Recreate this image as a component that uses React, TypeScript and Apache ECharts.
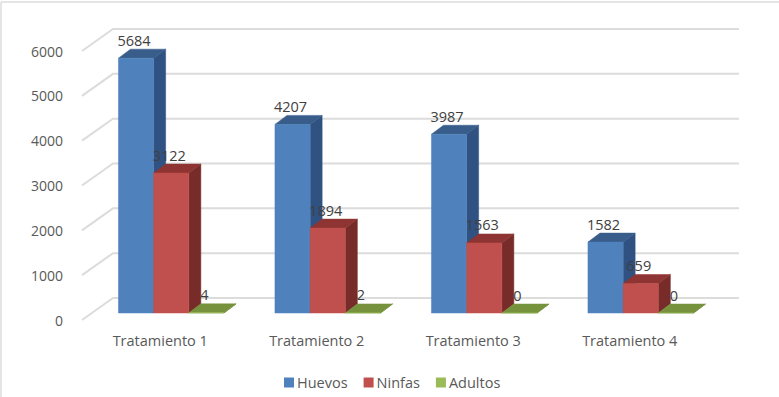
import React, { useEffect, useRef } from "react";
import * as echarts from "echarts";

const categories = ["Tratamiento 1", "Tratamiento 2", "Tratamiento 3", "Tratamiento 4"];
const huevos = [5684, 4207, 3987, 1582];
const ninfas = [3122, 1894, 1563, 659];
const adultos = [4, 2, 0, 0];
const yTicks = [0, 1000, 2000, 3000, 4000, 5000, 6000];

const FONT = "'Open Sans', sans-serif";
const FONT_SIZE = 14.5;
const BAR_RATIO = 35.2 / 156.5;
const PLANE_DX = 11; // bars stand part-way into the floor
const PLANE_DY = 7;
const DEPTH_DX = 12;
const DEPTH_DY = 9;
const WALL_DX = 31;
const WALL_DY = 22;

function barRenderer(slot: number, front: string, top: string, side: string) {
  return (params: any, api: any) => {
    const cat = api.value(0);
    const val = api.value(1);
    const [cx, y1] = api.coord([cat, val]);
    const [, y0] = api.coord([cat, 0]);
    const w = api.size([1, 0])[0] * BAR_RATIO;
    const xl = cx + PLANE_DX + slot * w - w / 2;
    const xr = xl + w;
    const yb = y0 - PLANE_DY;
    const yt = y1 - PLANE_DY;
    const poly = (points: number[][], fill: string) => ({
      type: "polygon",
      shape: { points },
      style: { fill, stroke: fill, lineWidth: 0.5 },
    });
    return {
      type: "group",
      children: [
        poly([[xr, yb], [xr + DEPTH_DX, yb - DEPTH_DY], [xr + DEPTH_DX, yt - DEPTH_DY], [xr, yt]], side),
        poly([[xl, yt], [xr, yt], [xr + DEPTH_DX, yt - DEPTH_DY], [xl + DEPTH_DX, yt - DEPTH_DY]], top),
        poly([[xl, yb], [xr, yb], [xr, yt], [xl, yt]], front),
        {
          type: "text",
          x: (xl + xr) / 2 - 2,
          y: yt - 18,
          style: {
            text: String(val),
            fill: "#404040",
            font: `${FONT_SIZE}px ${FONT}`,
            align: "center",
            verticalAlign: "middle",
          },
        },
      ],
    };
  };
}

function gridRenderer(params: any, api: any) {
  const [, y] = api.coord([0, api.value(1)]);
  const g = params.coordSys;
  return {
    type: "polyline",
    shape: {
      points: [
        [g.x, y],
        [g.x + WALL_DX, y - WALL_DY],
        [g.x + g.width + WALL_DX, y - WALL_DY],
      ],
    },
    style: { fill: "none", stroke: "#dcdcdc", lineWidth: 2 },
  };
}

function toData(values: number[]) {
  return values.map((v, i) => [i, v]);
}

export default function App() {
  const ref = useRef<HTMLDivElement>(null);
  useEffect(() => {
    document.body.style.margin = "0";
    document.body.style.background = "#fff";
    const chart = echarts.init(ref.current!, undefined, { renderer: "svg" });
    chart.setOption({
      animation: false,
      backgroundColor: "#fff",
      grid: { left: 82, right: 71, top: 51, bottom: 77 },
      xAxis: {
        type: "category",
        data: categories,
        axisLine: { show: false },
        axisTick: { show: false },
        axisLabel: { color: "#595959", fontSize: FONT_SIZE, fontFamily: FONT, margin: 13, interval: 0 },
      },
      yAxis: {
        type: "value",
        min: 0,
        max: 6000,
        interval: 1000,
        axisLine: { show: false },
        axisTick: { show: false },
        splitLine: { show: false },
        axisLabel: {
          color: "#595959",
          fontSize: 14,
          fontFamily: FONT,
          margin: 19,
          formatter: (v: number) => String(v),
        },
      },
      legend: {
        data: [
          { name: "Huevos", icon: "rect" },
          { name: "Ninfas", icon: "rect" },
          { name: "Adultos", icon: "rect" },
        ],
        left: 279,
        top: 370,
        itemWidth: 10,
        itemHeight: 10,
        itemGap: 16,
        textStyle: { color: "#595959", fontSize: FONT_SIZE, fontFamily: FONT, padding: [0, 0, 0, -2] },
      },
      graphic: [
        { type: "line", shape: { x1: 1, y1: 2, x2: 779, y2: 2 }, style: { stroke: "#dcdcdc", lineWidth: 1.5 } },
        { type: "line", shape: { x1: 1, y1: 2, x2: 1, y2: 397 }, style: { stroke: "#dcdcdc", lineWidth: 1.5 } },
      ],
      series: [
        {
          type: "custom",
          name: "Rejilla",
          silent: true,
          clip: false,
          renderItem: gridRenderer,
          data: yTicks.map((v) => [0, v]),
        },
        {
          type: "custom",
          name: "Huevos",
          clip: false,
          itemStyle: { color: "#4F81BD" },
          renderItem: barRenderer(-1, "#4F81BD", "#385D8A", "#2F5283"),
          data: toData(huevos),
        },
        {
          type: "custom",
          name: "Ninfas",
          clip: false,
          itemStyle: { color: "#C0504D" },
          renderItem: barRenderer(0, "#C0504D", "#8E3432", "#772C2A"),
          data: toData(ninfas),
        },
        {
          type: "custom",
          name: "Adultos",
          clip: false,
          itemStyle: { color: "#9BBB59" },
          renderItem: barRenderer(1, "#9BBB59", "#76923C", "#76923C"),
          data: toData(adultos),
        },
      ],
    });
    return () => chart.dispose();
  }, []);
  return <div ref={ref} style={{ width: 779, height: 397 }} />;
}
